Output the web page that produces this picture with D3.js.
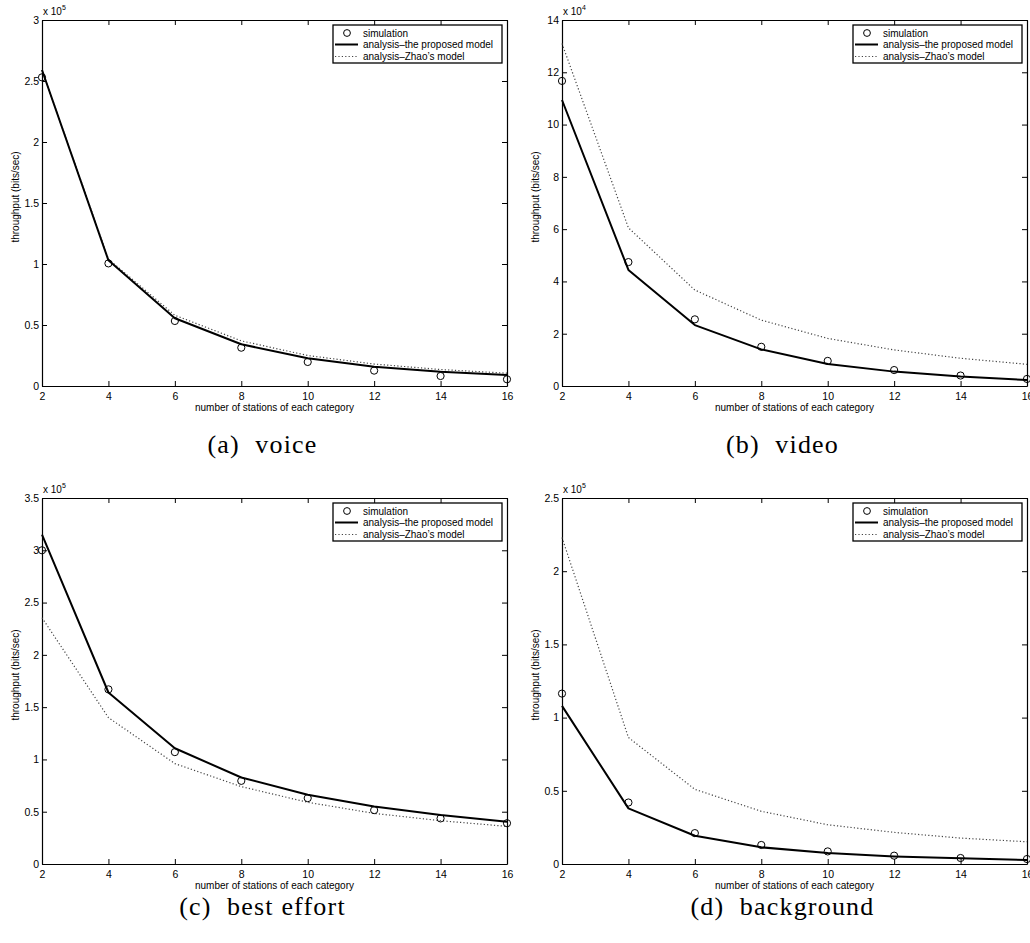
<!DOCTYPE html>
<html>
<head>
<meta charset="utf-8">
<script src="https://cdn.jsdelivr.net/npm/d3@7"></script>
<style>
  html, body { margin: 0; padding: 0; background: #fff; }
  svg { display: block; }
  .lab { font-family: "Liberation Sans", Arial, Helvetica, sans-serif; font-size: 10px; fill: #000; }
  .tick text { font-family: "Liberation Sans", Arial, Helvetica, sans-serif; font-size: 10.5px; fill: #000; }
  .cap { font-family: "Liberation Serif", "DejaVu Serif", serif; font-size: 26px; letter-spacing: 1.2px; fill: #000; }
</style>
</head>
<body>
<svg id="fig" width="1030" height="943"></svg>
<script>
// Number of stations of each access category (x axis)
const stations = [2, 4, 6, 8, 10, 12, 14, 16];

// Throughput in bits/sec — voice
const voiceSim      = [253000, 100500, 53300, 31400, 19700, 12600, 8200, 5500];
const voiceProposed = [259000, 103000, 55500, 34200, 22700, 15800, 11700, 9000];
const voiceZhao     = [259000, 104000, 58000, 37000, 25000, 18000, 13500, 10500];

// Throughput in bits/sec — video
const videoSim      = [116700, 47400, 25500, 15000, 9600, 6100, 4000, 2700];
const videoProposed = [109400, 44400, 23300, 14000, 8400, 5500, 3600, 2300];
const videoZhao     = [131000, 60500, 36700, 25200, 18200, 13800, 10600, 8300];

// Throughput in bits/sec — best effort
const beSim         = [300000, 167000, 107000, 79500, 63000, 51500, 43600, 39000];
const beProposed    = [315000, 164000, 110700, 82700, 66200, 55000, 46800, 40400];
const beZhao        = [235500, 140000, 96000, 74000, 59000, 48400, 41400, 36000];

// Throughput in bits/sec — background
const bgSim         = [116400, 42000, 21100, 13000, 8600, 5700, 4100, 3400];
const bgProposed    = [108000, 38000, 19300, 11400, 7500, 5200, 3900, 2700];
const bgZhao        = [223000, 86400, 51000, 36000, 26800, 21600, 17700, 15200];

// Y-axis limits, tick steps and exponent of each panel (values shown as multiples of 10^exp)
const yMax   = [3, 14, 3.5, 2.5];
const yStep  = [0.5, 2, 0.5, 0.5];
const yExp   = [5, 4, 5, 5];

const captions = ["(a)  voice", "(b)  video", "(c)  best effort", "(d)  background"];
const legendLabels = ["simulation", "analysis\u2013the proposed model", "analysis\u2013Zhao\u2019s model"];
const xLabel = "number of stations of each category";
const yLabel = "throughput (bits/sec)";

const panels = [
  { sim: voiceSim, prop: voiceProposed, zhao: voiceZhao, left: 42,  top: 20,  capY: 453 },
  { sim: videoSim, prop: videoProposed, zhao: videoZhao, left: 562, top: 20,  capY: 453 },
  { sim: beSim,    prop: beProposed,    zhao: beZhao,    left: 42,  top: 498, capY: 915 },
  { sim: bgSim,    prop: bgProposed,    zhao: bgZhao,    left: 562, top: 498, capY: 915 }
];

const W = 465, H = 366;
const svg = d3.select("#fig");
const dotted = { stroke: "#444", width: 1.2, dash: "1.2,2.2" };

panels.forEach((p, i) => {
  const g = svg.append("g").attr("transform", `translate(${p.left},${p.top})`);
  const scale = Math.pow(10, yExp[i]);

  const x = d3.scaleLinear().domain([2, 16]).range([0, W]);
  const y = d3.scaleLinear().domain([0, yMax[i] * scale]).range([H, 0]);
  const yTicks = d3.range(0, yMax[i] + 1e-9, yStep[i]).map(v => v * scale);
  const fmt = v => d3.format("~g")(+(v / scale).toFixed(3));

  // Axes on all four sides, ticks pointing inward
  g.append("g").attr("transform", `translate(0,${H})`)
    .call(d3.axisBottom(x).tickValues(stations).tickSizeInner(-5).tickSizeOuter(0).tickPadding(7).tickFormat(d3.format("d")));
  g.append("g")
    .call(d3.axisTop(x).tickValues(stations).tickSizeInner(-5).tickSizeOuter(0).tickFormat(""));
  g.append("g")
    .call(d3.axisLeft(y).tickValues(yTicks).tickSizeInner(-5).tickSizeOuter(0).tickPadding(3).tickFormat(fmt));
  g.append("g").attr("transform", `translate(${W},0)`)
    .call(d3.axisRight(y).tickValues(yTicks).tickSizeInner(-5).tickSizeOuter(0).tickFormat(""));

  g.selectAll(".domain").attr("stroke", "#000").attr("stroke-width", 1.2);
  g.selectAll(".tick line").attr("stroke", "#000").attr("stroke-width", 1);
  g.selectAll(".tick text").attr("font-size", null).attr("font-family", null);

  // Exponent label above the y axis
  const ex = g.append("text").attr("class", "lab").attr("x", 1).attr("y", -5);
  ex.append("tspan").text("x 10");
  ex.append("tspan").attr("dy", -5).attr("font-size", "7px").text(yExp[i]);

  // Axis titles
  g.append("text").attr("class", "lab").attr("text-anchor", "middle")
    .attr("x", W / 2).attr("y", H + 25).text(xLabel);
  g.append("text").attr("class", "lab").attr("text-anchor", "middle")
    .attr("transform", `translate(-23,${H / 2 - 6}) rotate(-90)`).text(yLabel);

  const line = d3.line().x((d, k) => x(stations[k])).y(d => y(d));

  // Zhao's model (dotted)
  g.append("path").datum(p.zhao).attr("d", line)
    .attr("fill", "none").attr("stroke", dotted.stroke).attr("stroke-width", dotted.width)
    .attr("stroke-dasharray", dotted.dash);

  // Proposed model (solid)
  g.append("path").datum(p.prop).attr("d", line)
    .attr("fill", "none").attr("stroke", "#000").attr("stroke-width", 2)
    .attr("stroke-linejoin", "round");

  // Simulation results (open circles)
  g.selectAll("circle.sim").data(p.sim).enter().append("circle")
    .attr("class", "sim")
    .attr("cx", (d, k) => x(stations[k])).attr("cy", d => y(d)).attr("r", 3.6)
    .attr("fill", "none").attr("stroke", "#000").attr("stroke-width", 1);

  // Legend box
  const lg = g.append("g").attr("transform", `translate(${W - 174},5)`);
  lg.append("rect").attr("width", 169).attr("height", 38)
    .attr("fill", "#fff").attr("stroke", "#000").attr("stroke-width", 1.3);
  const rowY = [8, 19.5, 31.5];
  lg.append("circle").attr("cx", 14).attr("cy", rowY[0]).attr("r", 3.4)
    .attr("fill", "none").attr("stroke", "#000").attr("stroke-width", 1);
  lg.append("line").attr("x1", 2).attr("x2", 25).attr("y1", rowY[1]).attr("y2", rowY[1])
    .attr("stroke", "#000").attr("stroke-width", 2);
  lg.append("line").attr("x1", 2).attr("x2", 25).attr("y1", rowY[2]).attr("y2", rowY[2])
    .attr("stroke", dotted.stroke).attr("stroke-width", dotted.width).attr("stroke-dasharray", dotted.dash);
  legendLabels.forEach((t, k) => {
    lg.append("text").attr("class", "lab").attr("x", 30).attr("y", rowY[k] + 3.5).text(t);
  });

  // Sub-figure caption
  svg.append("text").attr("class", "cap").attr("text-anchor", "middle")
    .attr("x", p.left + W / 2 - 12).attr("y", p.capY)
    .attr("xml:space", "preserve").text(captions[i]);
});
</script>
</body>
</html>
